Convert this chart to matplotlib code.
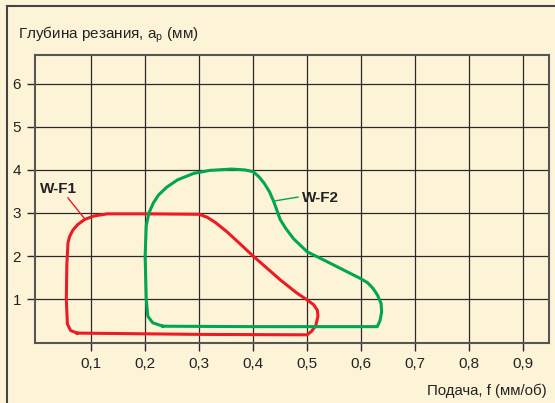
import numpy as np
import matplotlib
matplotlib.use("Agg")
import matplotlib.pyplot as plt
from matplotlib.lines import Line2D

# ========== DATA ==========
X_TICKS = [0.1, 0.2, 0.3, 0.4, 0.5, 0.6, 0.7, 0.8, 0.9]
X_LABELS = ["0,1", "0,2", "0,3", "0,4", "0,5", "0,6", "0,7", "0,8", "0,9"]
Y_TICKS = [1, 2, 3, 4, 5, 6]

# W-F1 contour (feed f, depth ap)
wf1_f = [0.074, 0.062, 0.056, 0.054, 0.055, 0.057, 0.060, 0.066, 0.075, 0.088,
         0.105, 0.13, 0.20, 0.30, 0.315, 0.33, 0.35, 0.37, 0.40, 0.45, 0.48,
         0.50, 0.512, 0.519, 0.52, 0.516, 0.508, 0.50, 0.30, 0.074]
wf1_ap = [0.21, 0.27, 0.42, 1.0, 1.8, 2.3, 2.45, 2.6, 2.73, 2.85,
          2.93, 2.98, 2.98, 2.97, 2.9, 2.78, 2.58, 2.35, 2.0, 1.45, 1.15,
          0.98, 0.87, 0.74, 0.6, 0.38, 0.25, 0.17, 0.18, 0.21]

# W-F2 contour
wf2_f = [0.233, 0.214, 0.205, 0.202, 0.200, 0.202, 0.207, 0.215, 0.225, 0.24,
         0.26, 0.29, 0.32, 0.36, 0.385, 0.40, 0.41, 0.42, 0.43, 0.437,
         0.443, 0.45, 0.46, 0.475, 0.50, 0.54, 0.60, 0.612, 0.622, 0.63,
         0.637, 0.638, 0.635, 0.63, 0.40, 0.233]
wf2_ap = [0.37, 0.45, 0.6, 1.0, 2.0, 2.7, 3.0, 3.23, 3.42, 3.6,
          3.77, 3.92, 3.99, 4.02, 4.0, 3.96, 3.85, 3.7, 3.5, 3.3,
          3.1, 2.85, 2.65, 2.4, 2.1, 1.85, 1.47, 1.38, 1.25, 1.1,
          0.9, 0.7, 0.5, 0.36, 0.36, 0.37]

BG = "#fdf4d8"
RED = "#ec1c24"
GREEN = "#00a650"

plt.rcParams['font.family'] = ['Liberation Sans', 'DejaVu Sans']
plt.rcParams['mathtext.fontset'] = 'custom'
plt.rcParams['mathtext.rm'] = 'Liberation Sans'

fig = plt.figure(figsize=(5.55, 4.03), dpi=100, facecolor=BG)
ax = fig.add_axes([35 / 555, 1 - 343 / 403, 514 / 555, 288 / 403])
ax.set_facecolor(BG)

ax.plot(wf1_f, wf1_ap, color=RED, lw=2.2, solid_joinstyle='round')
ax.plot(wf2_f, wf2_ap, color=GREEN, lw=2.2, solid_joinstyle='round')

# labels with leader lines
ax.text(0.006, 3.47, "W-F1", fontsize=11, fontweight='bold', color='#222222')
ax.plot([0.057, 0.087], [3.35, 2.88], color=RED, lw=1)
ax.text(0.49, 3.26, "W-F2", fontsize=11, fontweight='bold', color='#222222')
ax.plot([0.483, 0.44], [3.37, 3.28], color=GREEN, lw=1)

ax.set_xlim(-0.004, 0.948)
ax.set_ylim(-0.02, 6.67)
ax.set_xticks(X_TICKS)
ax.set_xticklabels(X_LABELS)
ax.set_yticks(Y_TICKS)
ax.grid(True, color='#2a2a2a', lw=0.9)
ax.set_axisbelow(True)
ax.tick_params(direction='out', length=6, width=1, color='#2a2a2a',
               labelsize=11, labelcolor='#222222', pad=4)
for s in ax.spines.values():
    s.set_color('#555555')
    s.set_linewidth(1.5)

fig.text(18 / 555, 1 - 38 / 403, r"Глубина резания, a$_{\rm p}$ (мм)",
         fontsize=11, color='#222222', va='baseline')
fig.text(547 / 555, 1 - 395 / 403, "Подача, f (мм/об)",
         fontsize=10.8, color='#222222', ha='right', va='baseline')

# frame on top and left
fig.add_artist(Line2D([7 / 555, 1], [1 - 6 / 403, 1 - 6 / 403], color='#444444', lw=1.5,
                      transform=fig.transFigure))
fig.add_artist(Line2D([7 / 555, 7 / 555], [0, 1 - 6 / 403], color='#444444', lw=1.5,
                      transform=fig.transFigure))

fig.savefig("out.png", dpi=100, facecolor=BG)
